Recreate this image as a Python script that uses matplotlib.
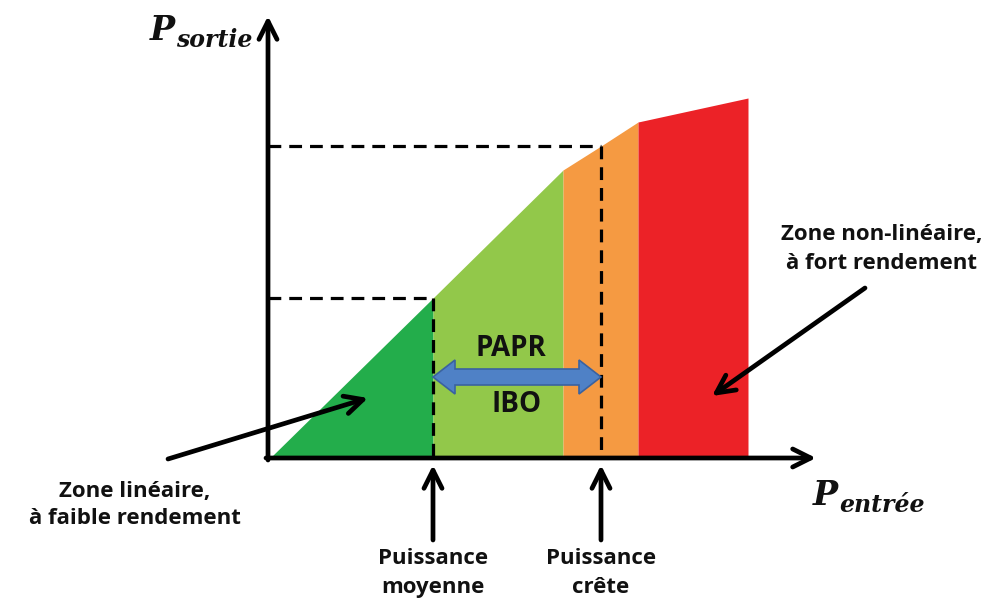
import matplotlib.pyplot as plt
from matplotlib.patches import Polygon

# Caractéristique de l'amplificateur (unités arbitraires, origine au coin des axes)
p_entree = [2, 165, 295, 333, 370, 480]
p_sortie = [0, 160, 288, 312, 336, 360]

# Zones : indices des points du profil
zones = [(0, 2), (1, 3), (2, 5), (4, 6)]
couleurs = ['#23ad4b', '#92c84a', '#f59a42', '#ec2227']

p_moy = 165      # puissance moyenne (entrée)
p_crete = 333    # puissance crête (entrée)
s_moy = 160
s_crete = 312

fig = plt.figure(figsize=(9.93, 6.08), dpi=100)
ax = fig.add_axes([0, 0, 1, 1])
ax.set_xlim(-268, 725)
ax.set_ylim(-150, 458)
ax.axis('off')

# Zones colorées sous la courbe
for (i0, i1), c in zip(zones, couleurs):
    ax.fill_between(p_entree[i0:i1], p_sortie[i0:i1], 0, color=c, lw=0, zorder=1)

# Pointillés
kw = dict(color='black', lw=2.3, ls=(0, (4, 2.5)), zorder=3)
ax.plot([0, p_moy], [s_moy, s_moy], **kw)
ax.plot([p_moy, p_moy], [s_moy, 0], **kw)
ax.plot([0, p_crete], [s_crete, s_crete], **kw)
ax.plot([p_crete, p_crete], [s_crete, 0], **kw)

# Axes avec flèches
fleche = dict(arrowstyle='->, head_length=1.3, head_width=0.65', lw=3.4, color='black',
              shrinkA=0, shrinkB=0)
ax.annotate('', xy=(0, 442), xytext=(0, -2), arrowprops=fleche, zorder=4)
ax.annotate('', xy=(548, 0), xytext=(-2, 0), arrowprops=fleche, zorder=4)

# Flèches du bas
for x in [p_moy, p_crete]:
    ax.annotate('', xy=(x, -7), xytext=(x, -82), arrowprops=fleche, zorder=4)

# Flèches vers les zones
ax.annotate('', xy=(100, 60), xytext=(-100, -1), arrowprops=fleche, zorder=4)
ax.annotate('', xy=(444, 62), xytext=(597, 170), arrowprops=fleche, zorder=4)

# Double flèche bleue PAPR / IBO
y0 = 81
hl, hh, bh = 22, 17, 8
pts = [(p_moy, y0), (p_moy + hl, y0 + hh), (p_moy + hl, y0 + bh),
       (p_crete - hl, y0 + bh), (p_crete - hl, y0 + hh), (p_crete, y0),
       (p_crete - hl, y0 - hh), (p_crete - hl, y0 - bh),
       (p_moy + hl, y0 - bh), (p_moy + hl, y0 - hh)]
ax.add_patch(Polygon(pts, closed=True, facecolor='#4f81c6', edgecolor='#3a62a0',
                     lw=1.2, zorder=5))

police = ['Open Sans', 'DejaVu Sans']
ax.text(243, 110, 'PAPR', ha='center', va='center', fontsize=20, fontweight='bold',
        family=police, color='#111111', zorder=6)
ax.text(249, 53, 'IBO', ha='center', va='center', fontsize=20, fontweight='bold',
        family=police, color='#111111', zorder=6)

txt = dict(fontsize=16, fontweight='bold', family=police, color='#111111')
ax.text(p_moy, -115, 'Puissance\nmoyenne', ha='center', va='center',
        linespacing=1.45, **txt)
ax.text(p_crete, -115, 'Puissance\ncrête', ha='center', va='center',
        linespacing=1.45, **txt)
ax.text(-133, -47, 'Zone linéaire,\nà faible rendement', ha='center', va='center',
        linespacing=1.35, **txt)
ax.text(614, 209, 'Zone non-linéaire,\nà fort rendement', ha='center', va='center',
        linespacing=1.45, **txt)

# Libellés des axes
serif = dict(family='DejaVu Serif', fontweight='bold', style='italic', color='#111111')
ax.text(-118, 418, 'P', fontsize=24, ha='left', va='baseline', **serif)
ax.text(-92, 411, 'sortie', fontsize=17, ha='left', va='baseline', **serif)
ax.text(545, -47, 'P', fontsize=24, ha='left', va='baseline', **serif)
ax.text(571, -54, 'entrée', fontsize=17, ha='left', va='baseline', **serif)

fig.savefig('out.png', dpi=100)
